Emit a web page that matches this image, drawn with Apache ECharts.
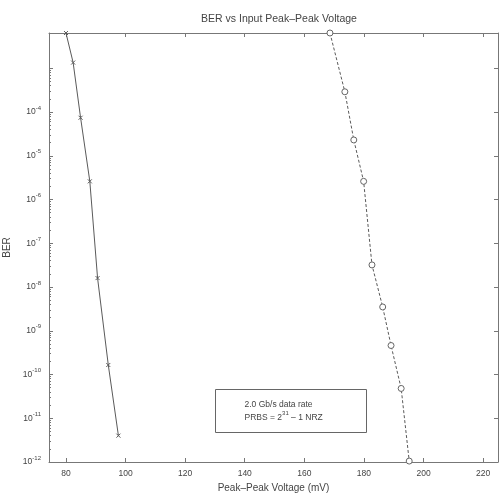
<!DOCTYPE html>
<html>
<head>
<meta charset="utf-8">
<script src="https://cdn.jsdelivr.net/npm/echarts@6/dist/echarts.min.js"></script>
<style>
  html, body { margin: 0; padding: 0; background: #fff; }
  #chart { width: 501px; height: 495px; }
</style>
</head>
<body>
<div id="chart"></div>
<script>
// Input peak-peak voltage (mV) against measured bit error ratio, two receivers
const voltageA = [80.0, 82.4, 84.9, 88.0, 90.6, 94.2, 97.6];
const berA = [6.4e-3, 1.35e-3, 7.4e-5, 2.6e-6, 1.6e-8, 1.65e-10, 4.0e-12];

const voltageB = [168.6, 173.6, 176.6, 179.9, 182.7, 186.3, 189.1, 192.5, 195.2];
const berB = [6.4e-3, 2.9e-4, 2.3e-5, 2.6e-6, 3.2e-8, 3.5e-9, 4.6e-10, 4.8e-11, 1.05e-12];

// Axis extents and tick values
const xRange = [74.3, 225];
const yRange = [1e-12, 6.4e-3];
const xTicks = [80, 100, 120, 140, 160, 180, 200, 220];
const yExponents = [-12, -11, -10, -9, -8, -7, -6, -5, -4, -3];
const yLabelledExponents = [-12, -11, -10, -9, -8, -7, -6, -5, -4];

const yTicks = yExponents.map(e => Math.pow(10, e));
const yLabelled = yLabelledExponents.map(e => Math.pow(10, e));
const yMinor = [];
yExponents.slice(0, -1).forEach(e => {
  for (let m = 2; m <= 9; m++) yMinor.push(m * Math.pow(10, e));
});

const FONT = 'Liberation Sans, Arial, sans-serif';
const INK = '#444';
const FRAME = '#777';
const TRACE = '#5a5a5a';

const pairs = (xs, ys) => xs.map((x, i) => [x, ys[i]]);

const chart = echarts.init(document.getElementById('chart'), null, { renderer: 'canvas' });

const frameLine = { show: true, lineStyle: { color: FRAME, width: 1 } };

// "10" with a raised exponent
const powerRich = {
  b: { fontFamily: FONT, fontSize: 8.5, color: INK, lineHeight: 14 },
  s: { fontFamily: FONT, fontSize: 6, color: INK, lineHeight: 6, verticalAlign: 'top' }
};

chart.setOption({
  animation: false,
  backgroundColor: '#fff',
  textStyle: { fontFamily: FONT, color: INK },
  title: {
    text: 'BER vs Input Peak\u2013Peak Voltage',
    left: 274,
    top: 9,
    textAlign: 'center',
    textStyle: { fontFamily: FONT, fontSize: 10.5, fontWeight: 'normal', color: INK }
  },
  grid: {
    left: 49, right: 3, top: 33, bottom: 33,
    outerBoundsMode: 'none',
    show: false
  },
  xAxis: [
    {
      type: 'value', position: 'bottom',
      min: xRange[0], max: xRange[1],
      name: 'Peak\u2013Peak Voltage (mV)',
      nameLocation: 'middle', nameGap: 21,
      nameTextStyle: { fontFamily: FONT, fontSize: 10, color: INK },
      axisLine: frameLine,
      axisTick: { show: true, inside: true, length: 4, customValues: xTicks, lineStyle: { color: FRAME } },
      axisLabel: { show: true, customValues: xTicks, margin: 7, fontSize: 8.5, fontFamily: FONT, color: INK },
      splitLine: { show: false }
    },
    {
      type: 'value', position: 'top',
      min: xRange[0], max: xRange[1],
      axisLine: frameLine,
      axisTick: { show: true, inside: true, length: 4, customValues: xTicks, lineStyle: { color: FRAME } },
      axisLabel: { show: false },
      splitLine: { show: false }
    }
  ],
  yAxis: [
    {
      type: 'log', logBase: 10, position: 'left',
      min: yRange[0], max: yRange[1],
      name: 'BER', nameLocation: 'middle', nameGap: 29,
      nameTextStyle: { fontFamily: FONT, fontSize: 10, color: INK },
      axisLine: frameLine,
      axisTick: { show: true, inside: true, length: 4, customValues: yTicks, lineStyle: { color: FRAME } },
      axisLabel: {
        show: true, customValues: yLabelled, margin: 8,
        formatter: v => '{b|10}{s|' + Math.round(Math.log10(v)) + '}',
        rich: powerRich
      },
      splitLine: { show: false }
    },
    {
      type: 'log', logBase: 10, position: 'left',
      min: yRange[0], max: yRange[1],
      axisLine: { show: false },
      axisTick: { show: true, inside: true, length: 2, customValues: yMinor, lineStyle: { color: FRAME } },
      axisLabel: { show: false },
      splitLine: { show: false }
    },
    {
      type: 'log', logBase: 10, position: 'right',
      min: yRange[0], max: yRange[1],
      axisLine: frameLine,
      axisTick: { show: true, inside: true, length: 4, customValues: yTicks, lineStyle: { color: FRAME } },
      axisLabel: { show: false },
      splitLine: { show: false }
    }
  ],
  series: [
    {
      name: 'Receiver A',
      type: 'line',
      xAxisIndex: 0, yAxisIndex: 0,
      data: pairs(voltageA, berA),
      symbol: 'path://M0 0L8 8M8 0L0 8',
      symbolSize: 4,
      itemStyle: { color: 'none', borderColor: TRACE, borderWidth: 1 },
      lineStyle: { color: TRACE, width: 1 },
      z: 3
    },
    {
      name: 'Receiver B',
      type: 'line',
      xAxisIndex: 0, yAxisIndex: 0,
      data: pairs(voltageB, berB),
      symbol: 'circle',
      symbolSize: 6,
      itemStyle: { color: '#fff', borderColor: '#666', borderWidth: 1 },
      lineStyle: { color: TRACE, width: 1, type: [3, 2] },
      z: 3
    }
  ],
  graphic: [
    {
      type: 'group',
      left: 215, top: 389,
      children: [
        {
          type: 'rect',
          shape: { x: 0, y: 0, width: 151, height: 43 },
          style: { fill: '#fff', stroke: '#666', lineWidth: 1 }
        },
        {
          type: 'text', x: 29, y: 11,
          style: { text: '2.0 Gb/s data rate', font: '8.5px ' + FONT, fill: INK }
        },
        {
          type: 'text', x: 29, y: 21,
          style: {
            text: '{a|PRBS = 2}{s|31}{a| \u2013 1 NRZ}',
            rich: {
              a: { fontFamily: FONT, fontSize: 8.5, fill: INK, lineHeight: 14 },
              s: { fontFamily: FONT, fontSize: 6, fill: INK, lineHeight: 6, verticalAlign: 'top' }
            }
          }
        }
      ]
    }
  ]
});
</script>
</body>
</html>
